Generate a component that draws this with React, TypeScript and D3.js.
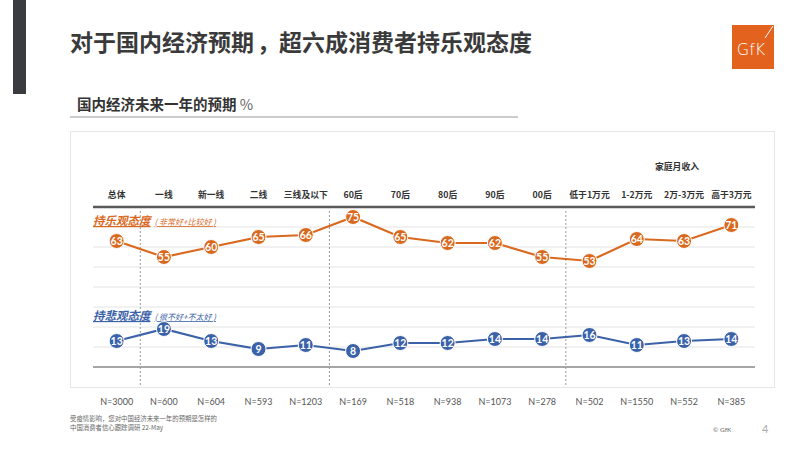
import React from "react";
import * as d3 from "d3";

const categories = ["总体", "一线", "新一线", "二线", "三线及以下", "60后", "70后", "80后", "90后", "00后", "低于1万元", "1-2万元", "2万-3万元", "高于3万元"];
const optimistic = [63, 55, 60, 65, 66, 75, 65, 62, 62, 55, 53, 64, 63, 71];
const pessimistic = [13, 19, 13, 9, 11, 8, 12, 12, 14, 14, 16, 11, 13, 14];
const sampleSizes = ["N=3000", "N=600", "N=604", "N=593", "N=1203", "N=169", "N=518", "N=938", "N=1073", "N=278", "N=502", "N=1550", "N=552", "N=385"];
const groupBreaksAfter = ["总体", "三线及以下", "00后"];
const gridValues = [10, 20, 30, 40, 50, 60, 70];

const ORANGE = "#d9691f";
const BLUE = "#3b62a8";
const FONT = "'Noto Sans CJK SC', 'Noto Sans', sans-serif";
const LATIN = "Lato, 'Noto Sans CJK SC', sans-serif";

export default function App() {
  const W = 799, H = 450;
  const x = d3.scalePoint<string>().domain(categories).range([93, 755]).padding(0.5);
  const y = d3.scaleLinear().domain([0, 80]).range([367, 207]);
  const step = x.step();
  const line = d3.line<number>().x((_, i) => x(categories[i])!).y((d) => y(d));

  const series = [
    { values: optimistic, color: ORANGE },
    { values: pessimistic, color: BLUE },
  ];

  return (
    <svg width={W} height={H} style={{ position: "absolute", left: 0, top: 0, background: "#fff" }} fontFamily={FONT}>
      <rect x={0} y={0} width={W} height={H} fill="#fff" />
      {/* left dark bar */}
      <rect x={13} y={0} width={13} height={94} fill="#3a3b3e" />
      {/* title */}
      <text x={70} y={51} fontSize={23} fontWeight={700} fill="#3a3a3a">
        <tspan>对于国内经济预期</tspan>
        <tspan dx={3}>，</tspan>
        <tspan dx={-1}>超六成消费者持乐观态度</tspan>
      </text>
      {/* GfK logo */}
      <rect x={732} y={25} width={42} height={44} fill="#e2621e" />
      <text x={751} y={55} fontSize={16} fill="#fff" textAnchor="middle" fontFamily="'DejaVu Sans', sans-serif" fontWeight={300}>GfK</text>
      <line x1={765} y1={38} x2={773} y2={26} stroke="#fff" strokeWidth={1} />
      {/* subtitle */}
      <text x={77} y={110} fontSize={14.5} fontWeight={700} fill="#333">国内经济未来一年的预期 <tspan fontWeight={400} fill="#666">%</tspan></text>
      <line x1={70} y1={117} x2={518} y2={117} stroke="#999" strokeWidth={1} />
      {/* chart box */}
      <rect x={70.5} y={131.5} width={704} height={256} fill="none" stroke="#e6e6e6" strokeWidth={1} />
      {/* 家庭月收入 */}
      <text x={677} y={170} fontSize={8.8} fontWeight={700} fill="#333" textAnchor="middle">家庭月收入</text>
      {/* category labels */}
      {categories.map((c) => (
        <text key={c} x={x(c)} y={198} fontSize={8.8} fontWeight={700} fill="#333" textAnchor="middle">{c}</text>
      ))}
      {/* grid */}
      {gridValues.map((v) => (
        <line key={v} x1={93} x2={755} y1={y(v)} y2={y(v)} stroke="#e3e3e3" strokeWidth={1} />
      ))}
      <line x1={93} x2={755} y1={y(0)} y2={y(0)} stroke="#a6a6a6" strokeWidth={2} />
      <line x1={93} x2={755} y1={y(80)} y2={y(80)} stroke="#5a5a5a" strokeWidth={2.5} />
      {/* dashed separators */}
      {groupBreaksAfter.map((c) => {
        const xx = x(c)! + step / 2;
        return <line key={c} x1={xx} x2={xx} y1={y(78)} y2={387} stroke="#999" strokeWidth={1} strokeDasharray="2,2" />;
      })}
      {/* series labels */}
      <text x={93} y={225} fill={ORANGE} fontStyle="italic" textDecoration="underline">
        <tspan fontSize={11.5} fontWeight={700}>持乐观态度</tspan>
        <tspan fontSize={8} dx={4}>( 非常好+比较好 )</tspan>
      </text>
      <text x={93} y={320} fill={BLUE} fontStyle="italic" textDecoration="underline">
        <tspan fontSize={11.5} fontWeight={700}>持悲观态度</tspan>
        <tspan fontSize={8} dx={4}>( 很不好+不太好 )</tspan>
      </text>
      {/* lines */}
      {series.map((s, si) => (
        <g key={si}>
          <path d={line(s.values)!} fill="none" stroke={s.color} strokeWidth={2.2} />
          {s.values.map((v, i) => (
            <g key={i}>
              <circle cx={x(categories[i])} cy={y(v)} r={7.5} fill={s.color} stroke="#fff" strokeWidth={1} />
              <text x={x(categories[i])} y={y(v) + 3.8} fontSize={10.5} fontWeight={700} fill="#fff" textAnchor="middle" fontFamily={LATIN}>{v}</text>
            </g>
          ))}
        </g>
      ))}
      {/* N labels */}
      {sampleSizes.map((n, i) => (
        <text key={i} x={x(categories[i])} y={405} fontSize={9} fill="#555" textAnchor="middle" fontFamily={LATIN}>{n}</text>
      ))}
      {/* footnotes */}
      <text x={70} y={421} fontSize={6.4} fill="#666">受疫情影响，您对中国经济未来一年的预期是怎样的</text>
      <text x={70} y={430} fontSize={6.4} fill="#666">中国消费者信心跟踪调研 22-May</text>
      <text x={713} y={432} fontSize={6.5} fill="#666" fontFamily={LATIN}>© GfK</text>
      <text x={762} y={433} fontSize={11} fill="#aaa" fontFamily={LATIN}>4</text>
    </svg>
  );
}
